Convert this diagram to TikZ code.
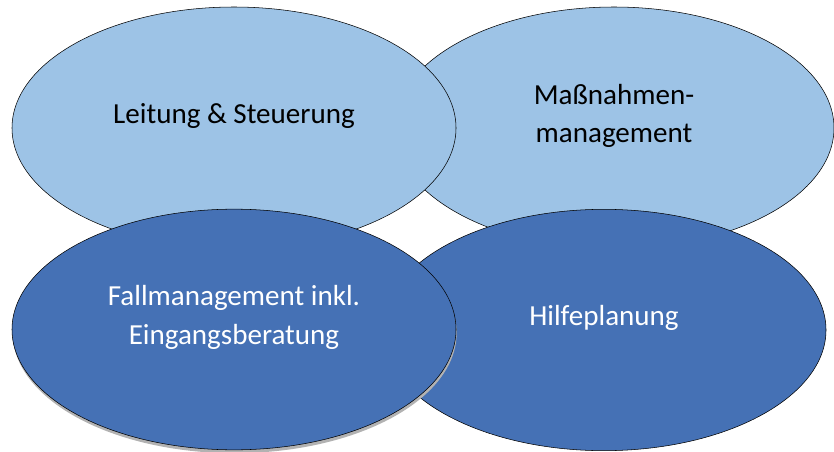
\documentclass[tikz,border=0pt]{standalone}
\usepackage{fontspec}
\setmainfont{Carlito}
\usetikzlibrary{shapes.geometric, shadows}
\definecolor{lightblue}{HTML}{9DC3E6}
\definecolor{darkblue}{HTML}{4571B5}

\begin{document}
\begin{tikzpicture}
  [x=0.75pt, y=-0.75pt,
   area/.style={shape=ellipse, draw=black, thin, inner sep=0pt},
   upper/.style={area, fill=lightblue},
   lower/.style={area, fill=darkblue},
   label/.style={align=center, font=\fontsize{21.8}{29}\selectfont}]
  \useasboundingbox (0, 0) rectangle (834, 452);
  \node (massn) [upper, minimum width=330pt, minimum height=181.5pt] at (614, 128) {};
  \node (leitung) [upper, minimum width=333pt, minimum height=181.5pt] at (234, 128) {};
  \node (hilfe) [lower, minimum width=333pt, minimum height=181pt] at (604, 330) {};
  \node (fall) [lower, minimum width=333pt, minimum height=180.5pt,
    drop shadow={shadow xshift=0.5pt, shadow yshift=-2.5pt, fill=gray!60, opacity=1}] at (234, 329.5) {};
  \node (leitungtext) [label] at ([yshift=9pt] leitung.center) {Leitung \& Steuerung};
  \node (massntext) [label] at ([yshift=9pt] massn.center) {Maßnahmen-\\management};
  \node (falltext) [label, text=white] at ([yshift=9pt] fall.center) {Fallmanagement inkl.\\Eingangsberatung};
  \node (hilfetext) [label, text=white] at ([yshift=9pt] hilfe.center) {Hilfeplanung};
\end{tikzpicture}
\end{document}
